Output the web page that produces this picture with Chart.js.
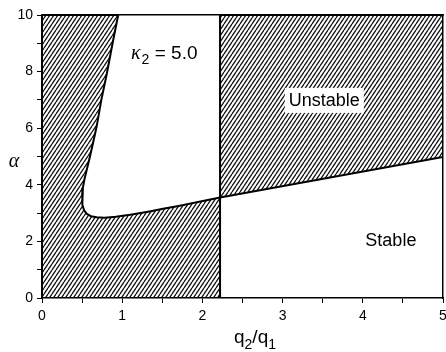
<!DOCTYPE html>
<html>
<head>
<meta charset="utf-8">
<script src="https://cdn.jsdelivr.net/npm/chart.js@4/dist/chart.umd.min.js"></script>
<style>
html,body{margin:0;padding:0;background:#fff;}
canvas{display:block;}
</style>
</head>
<body>
<canvas id="c" width="446" height="352"></canvas>
<script>
// ---- data ----
// boundary of the white (stable) pocket in the left region, from top downwards
const curveX = [0.95, 0.88, 0.81, 0.74, 0.68, 0.63, 0.59, 0.555, 0.53, 0.51, 0.50, 0.505, 0.525, 0.56, 0.61, 0.68, 0.78, 0.92, 1.10, 1.34, 1.51, 1.72, 1.93, 2.22];
const curveY = [10, 9.0, 7.95, 7.0, 6.04, 5.4, 4.9, 4.5, 4.2, 3.9, 3.55, 3.3, 3.1, 2.97, 2.89, 2.85, 2.84, 2.87, 2.94, 3.06, 3.15, 3.26, 3.38, 3.55];
// stability boundary in the right region
const lineX = [2.22, 5.0];
const lineY = [3.55, 4.98];
// critical charge ratio (vertical boundary)
const critX = 2.22;
// axis ranges / tick labels
const xTickLabels = ['0', '1', '2', '3', '4', '5'];
const yTickLabels = ['0', '2', '4', '6', '8', '10'];
const xMin = 0, xMax = 5, yMin = 0, yMax = 10;
// annotation texts
const kappaText = ['κ', '2', ' = 5.0'];
const unstableLabel = 'Unstable';
const stableLabel = 'Stable';
const unstablePos = [3.52, 7.0];
const stablePos = [4.35, 2.0];
const kappaPos = [1.11, 8.45];

// ---- build polygons from the arrays ----
const leftPoly = [{x: xMin, y: yMin}, {x: xMin, y: yMax}];
for (let i = 0; i < curveX.length; i++) leftPoly.push({x: curveX[i], y: curveY[i]});
leftPoly.push({x: critX, y: yMin});
leftPoly.push({x: xMin, y: yMin});

const rightPoly = [{x: critX, y: lineY[0]}, {x: critX, y: yMax}, {x: xMax, y: yMax}];
for (let i = lineX.length - 1; i >= 0; i--) rightPoly.push({x: lineX[i], y: lineY[i]});

function hatch() {
  const W = 4, H = 6;
  const c = document.createElement('canvas');
  c.width = W; c.height = H;
  const g = c.getContext('2d');
  g.strokeStyle = '#111';
  g.lineWidth = 1.25;
  g.beginPath();
  for (let k = -1; k <= 1; k++) {
    g.moveTo(k * W, H);
    g.lineTo(k * W + W, 0);
  }
  g.stroke();
  return g.createPattern(c, 'repeat');
}
const pat = hatch();

const SANS = "'Liberation Sans', Arial, sans-serif";
const SERIF = "'Liberation Serif', 'DejaVu Serif', serif";

const textPlugin = {
  id: 'texts',
  beforeDraw(chart) {
    const ctx = chart.ctx;
    ctx.save();
    ctx.fillStyle = '#fff';
    ctx.fillRect(0, 0, chart.width, chart.height);
    ctx.restore();
  },
  afterDraw(chart) {
    const ctx = chart.ctx;
    const xs = chart.scales.x, ys = chart.scales.y;
    ctx.save();
    ctx.fillStyle = '#000';
    ctx.textBaseline = 'alphabetic';

    // kappa label
    let px = xs.getPixelForValue(kappaPos[0]);
    let py = ys.getPixelForValue(kappaPos[1]);
    ctx.textAlign = 'left';
    ctx.font = 'italic 20px ' + SERIF;
    ctx.fillText(kappaText[0], px, py);
    px += ctx.measureText(kappaText[0]).width + 1;
    ctx.font = '14px ' + SANS;
    ctx.fillText(kappaText[1], px, py + 5);
    px += ctx.measureText(kappaText[1]).width;
    ctx.font = '19px ' + SANS;
    ctx.fillText(kappaText[2], px, py);

    // Unstable with white box
    ctx.font = '18px ' + SANS;
    ctx.textAlign = 'center';
    px = xs.getPixelForValue(unstablePos[0]);
    py = ys.getPixelForValue(unstablePos[1]);
    const w = ctx.measureText(unstableLabel).width;
    ctx.fillStyle = '#fff';
    ctx.fillRect(px - w / 2 - 4, py - 12, w + 8, 25);
    ctx.fillStyle = '#000';
    ctx.textBaseline = 'middle';
    ctx.fillText(unstableLabel, px, py + 1);

    // Stable
    px = xs.getPixelForValue(stablePos[0]);
    py = ys.getPixelForValue(stablePos[1]);
    ctx.fillText(stableLabel, px, py);

    // y title alpha (upright)
    ctx.textBaseline = 'alphabetic';
    ctx.textAlign = 'center';
    ctx.font = 'italic 20px ' + SERIF;
    ctx.fillText('α', 14, 167);

    // x title q2/q1
    ctx.textAlign = 'left';
    const parts = [['q', 19, 0], ['2', 14, 6], ['/', 19, 0], ['q', 19, 0], ['1', 14, 6]];
    let tw = 0;
    for (const p of parts) { ctx.font = p[1] + 'px ' + SANS; tw += ctx.measureText(p[0]).width; }
    let tx = 255 - tw / 2;
    for (const p of parts) {
      ctx.font = p[1] + 'px ' + SANS;
      ctx.fillText(p[0], tx, 343 + p[2]);
      tx += ctx.measureText(p[0]).width;
    }
    ctx.restore();
  }
};

const axisCommon = {
  type: 'linear',
  grid: {display: true, drawOnChartArea: false, drawTicks: true, tickLength: 5, color: '#000', lineWidth: 1},
  border: {display: true, color: '#000', width: 1.5}
};

new Chart(document.getElementById('c'), {
  type: 'scatter',
  data: {
    datasets: [
      {
        label: 'Unstable (left)',
        data: leftPoly,
        showLine: true,
        fill: 'shape',
        backgroundColor: pat,
        borderColor: '#000',
        borderWidth: 2,
        pointRadius: 0,
        tension: 0
      },
      {
        label: 'Unstable (right)',
        data: rightPoly,
        showLine: true,
        fill: 'shape',
        backgroundColor: pat,
        borderColor: '#000',
        borderWidth: 2,
        pointRadius: 0,
        tension: 0
      }
    ]
  },
  options: {
    responsive: false,
    devicePixelRatio: 1,
    animation: false,
    layout: {padding: {left: 0, right: 3, top: 15, bottom: 0}},
    plugins: {legend: {display: false}, tooltip: {enabled: false}},
    scales: {
      x: Object.assign({}, axisCommon, {
        position: 'bottom', min: xMin, max: xMax,
        ticks: {
          stepSize: 0.5, autoSkip: false, maxRotation: 0, padding: 5,
          color: '#000', font: {family: SANS, size: 14},
          callback: (v) => Number.isInteger(v) ? xTickLabels[v] : ''
        },
        afterFit: (s) => { s.height = 54; s.paddingLeft = 0; s.paddingRight = 0; }
      }),
      y: Object.assign({}, axisCommon, {
        position: 'left', min: yMin, max: yMax,
        ticks: {
          stepSize: 1, autoSkip: false, padding: 4,
          color: '#000', font: {family: SANS, size: 14},
          callback: (v) => (v % 2 === 0) ? yTickLabels[v / 2] : ''
        },
        afterFit: (s) => { s.width = 42; s.paddingTop = 0; s.paddingBottom = 0; }
      }),
      x2: {
        type: 'linear', position: 'top', min: xMin, max: xMax,
        ticks: {display: false},
        grid: {display: true, drawOnChartArea: false, drawTicks: false},
        border: {display: true, color: '#000', width: 1.5},
        afterFit: (s) => { s.height = 0; s.paddingLeft = 0; s.paddingRight = 0; }
      },
      y2: {
        type: 'linear', position: 'right', min: yMin, max: yMax,
        ticks: {display: false},
        grid: {display: true, drawOnChartArea: false, drawTicks: false},
        border: {display: true, color: '#000', width: 1.5},
        afterFit: (s) => { s.width = 0; s.paddingTop = 0; s.paddingBottom = 0; }
      }
    }
  },
  plugins: [textPlugin]
});
</script>
</body>
</html>
